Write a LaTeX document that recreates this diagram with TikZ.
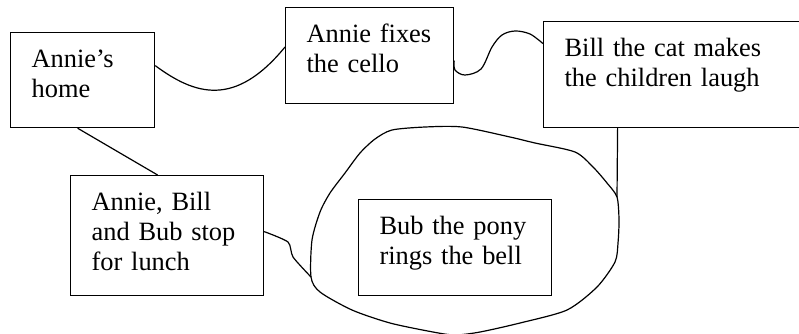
\documentclass[tikz,border=0pt]{standalone}
\usepackage{fontspec}
\setmainfont{Liberation Serif}

\begin{document}
\begin{tikzpicture}[
    x=1pt, y=-1pt,
    % Styles
    storybox/.style={
        rectangle,
        draw=black,
        line width=1.2pt,
        anchor=north west,
        align=left,
        inner xsep=21pt,
        inner ysep=0pt,
        text height=35pt,
        font=\fontsize{26.4}{30}\selectfont
    },
    link/.style={
        line width=1.2pt,
        line join=round
    }
]
\useasboundingbox (0,0) rectangle (799,333);

% Story boxes
\node[storybox, text width=102pt, text depth=60pt] (home) at (10,32) {Annie’s\\home};
\node[storybox, text width=126pt, text depth=61pt] (cello) at (285,7) {Annie fixes\\the cello};
\node[storybox, text width=220pt, text depth=71pt] (laugh) at (543,21) {Bill the cat makes\\the children laugh};
\node[storybox, text width=151pt, text depth=85pt] (lunch) at (70,175) {Annie, Bill\\and Bub stop\\for lunch};
\node[storybox, text width=151pt, text depth=61pt] (pony) at (358,199) {Bub the pony\\rings the bell};

% Points on the loop
\coordinate (join) at (311,277);
\coordinate (ring) at (617,197);

% Links between the boxes
\draw[link] ([yshift=14.5pt]home.east) .. controls (195,95) and (235,108) .. (cello.west |- 0,47);
\draw[link] ([xshift=-5pt]home.south) -- ([xshift=-9.5pt]lunch.north);
\draw[link] plot[smooth, tension=0.55] coordinates {
    ([yshift=-5pt]cello.east) (455,70) (465,75) (481,69) (492,47) (502,35) (515,31) (530,34) ([yshift=31pt]laugh.west)};
\draw[link] ([xshift=-57pt]laugh.south) -- (ring);
\draw[link] plot[smooth, tension=0.4] coordinates {
    ([yshift=4pt]lunch.east) (288,242) (293,257) (join)};

% Loop round the pony
\draw[link] plot[smooth cycle, tension=0.45] coordinates {
    (join) (312,240) (320,212) (330,193) (345,173) (360,153) (375,139) (392,130)
    (425,127) (462,127) (510,137) (535,143) (575,152) (593,167) (607,183) (ring)
    (619,220) (618,243) (615,262) (597,287) (567,310) (520,323) (480,332) (455,335)
    (433,332) (390,323) (352,310) (320,292)};

\end{tikzpicture}
\end{document}
